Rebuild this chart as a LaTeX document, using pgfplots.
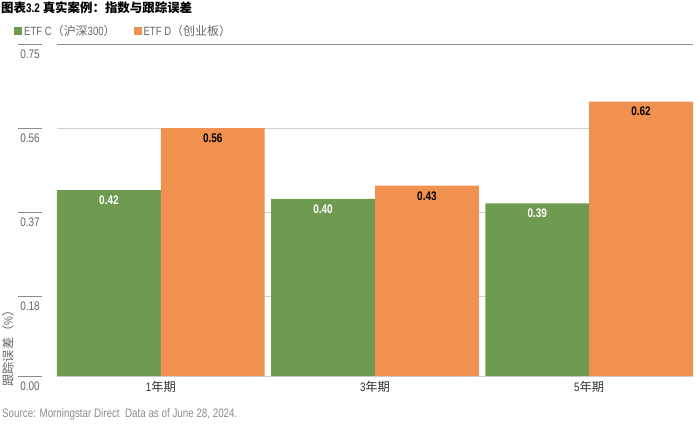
\documentclass[border=0pt]{standalone}
\usepackage{pgfplots}
\pgfplotsset{compat=1.18}
\usepackage{fontspec}
\setmainfont[FakeStretch=0.8]{Liberation Sans}
\newfontfamily\cjk{Noto Sans CJK SC}
\definecolor{etfc}{HTML}{6F9B50}
\definecolor{etfd}{HTML}{F0914F}
\definecolor{txtgray}{HTML}{666666}
\definecolor{linegray}{HTML}{8C8C8C}
\begin{document}
\begin{tikzpicture}[font=\fontsize{12.3}{14}\selectfont]
\useasboundingbox (-57bp,-55bp) rectangle (643bp,376bp);
\begin{axis}[
    at={(0,0)}, anchor=south west,
    scale only axis,
    width=636bp, height=332bp,
    ybar=0pt,
    bar width=0.485,
    xmin=-0.485, xmax=2.485,
    ymin=0, ymax=0.75,
    xtick={0,1,2},
    xticklabels={1{\cjk 年期},3{\cjk 年期},5{\cjk 年期}},
    xticklabel style={text=black!80, yshift=-2bp},
    ytick={0,0.18,0.37,0.56,0.75},
    yticklabel={{\color{linegray}\rule{24bp}{1bp}}\\\pgfmathprintnumber{\tick}},
    yticklabel style={align=center, inner sep=0pt, anchor=north, xshift=-27bp, yshift=0.5bp,
        text=txtgray, font=\fontsize{12.5}{14}\selectfont,
        /pgf/number format/.cd, fixed, fixed zerofill, precision=2, assume math mode=true},
    extra y ticks={0.75},
    extra y tick labels={},
    extra y tick style={grid style={linegray, line width=0.9pt}},
    axis line style={draw=none},
    major tick length=0pt,
    tick style={draw=none},
    ymajorgrids,
    grid style={black!18, line width=0.7pt},
    clip=false,
    nodes near coords={\pgfmathprintnumber[fixed,fixed zerofill,precision=2,assume math mode=true]{\pgfplotspointmeta}},
    every node near coord/.append style={anchor=north, yshift=-5.5bp, inner sep=0pt, font=\bfseries\fontsize{12.5}{14}\selectfont},
    legend style={draw=none, fill=none, at={(axis description cs:-0.0676,1.039)}, anchor=west,
        legend columns=-1, text=txtgray, inner sep=0pt, font=\fontsize{12}{14}\selectfont,
        /tikz/every even column/.append style={column sep=16bp}},
    legend image code/.code={\fill[#1] (0bp,-4bp) rectangle (8bp,4bp);},
]
\addplot[fill=etfc, draw=none, every node near coord/.append style={text=white}]
    coordinates {(0,0.42) (1,0.40) (2,0.39)};
\addlegendentry{ETF C{\cjk （沪深}300{\cjk ）}}
\addplot[fill=etfd, draw=none, every node near coord/.append style={text=black}]
    coordinates {(0,0.56) (1,0.43) (2,0.62)};
\addlegendentry{ETF D{\cjk （创业板）}}
\node[anchor=west, inner sep=0pt, font=\bfseries\fontsize{12.5}{14}\selectfont]
    at (axis description cs:-0.0880,1.108) {{\cjk 图表}3.2 {\cjk 真实案例：指数与跟踪误差}};
\node[rotate=90, anchor=west, inner sep=0pt, text=txtgray, font=\fontsize{12.3}{14}\selectfont]
    at (axis description cs:-0.077,-0.033) {{\cjk 跟踪误差（}\%{\cjk ）}};
\node[anchor=west, inner sep=0pt, text=black!45, font=\fontsize{12.3}{14}\selectfont]
    at (axis description cs:-0.0865,-0.114) {Source: Morningstar Direct\ \ Data as of June 28, 2024.};
\end{axis}
\end{tikzpicture}
\end{document}
